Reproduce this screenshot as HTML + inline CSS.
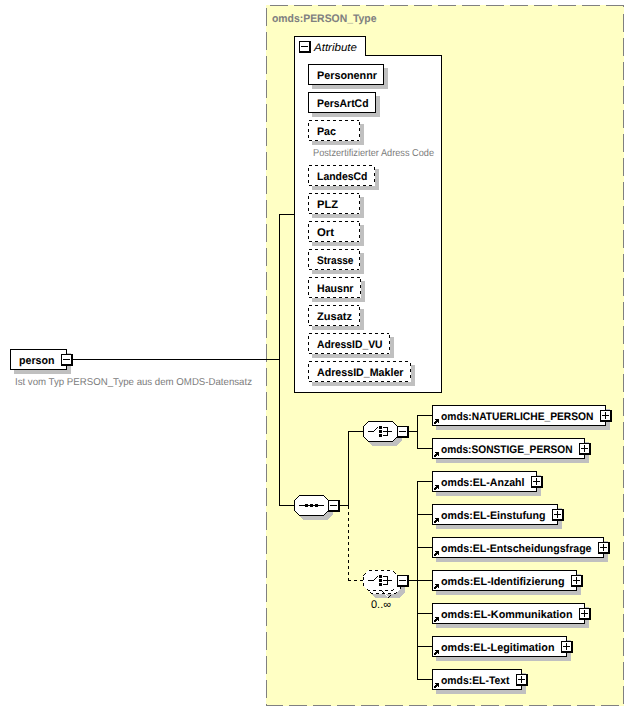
<!DOCTYPE html>
<html><head><meta charset="utf-8"><style>
html,body{margin:0;padding:0;background:#fff;width:634px;height:711px;overflow:hidden}
svg{display:block}
text{font-family:"Liberation Sans",sans-serif;shape-rendering:auto;text-rendering:geometricPrecision}
</style></head><body>
<svg width="634" height="711" viewBox="0 0 634 711" shape-rendering="crispEdges" font-family="Liberation Sans, sans-serif"><rect x="0" y="0" width="634" height="711" fill="#fff"/>
<rect x="266" y="5" width="358" height="701" fill="#ffffc4"/>
<rect x="270" y="5" width="18" height="1" fill="#808080"/>
<rect x="294" y="5" width="18" height="1" fill="#808080"/>
<rect x="318" y="5" width="18" height="1" fill="#808080"/>
<rect x="342" y="5" width="18" height="1" fill="#808080"/>
<rect x="366" y="5" width="18" height="1" fill="#808080"/>
<rect x="390" y="5" width="18" height="1" fill="#808080"/>
<rect x="414" y="5" width="18" height="1" fill="#808080"/>
<rect x="438" y="5" width="18" height="1" fill="#808080"/>
<rect x="462" y="5" width="18" height="1" fill="#808080"/>
<rect x="486" y="5" width="18" height="1" fill="#808080"/>
<rect x="510" y="5" width="18" height="1" fill="#808080"/>
<rect x="534" y="5" width="18" height="1" fill="#808080"/>
<rect x="558" y="5" width="18" height="1" fill="#808080"/>
<rect x="582" y="5" width="18" height="1" fill="#808080"/>
<rect x="606" y="5" width="18" height="1" fill="#808080"/>
<rect x="266" y="705" width="17" height="1" fill="#808080"/>
<rect x="289" y="705" width="18" height="1" fill="#808080"/>
<rect x="313" y="705" width="18" height="1" fill="#808080"/>
<rect x="337" y="705" width="18" height="1" fill="#808080"/>
<rect x="361" y="705" width="18" height="1" fill="#808080"/>
<rect x="385" y="705" width="18" height="1" fill="#808080"/>
<rect x="409" y="705" width="18" height="1" fill="#808080"/>
<rect x="433" y="705" width="18" height="1" fill="#808080"/>
<rect x="457" y="705" width="18" height="1" fill="#808080"/>
<rect x="481" y="705" width="18" height="1" fill="#808080"/>
<rect x="505" y="705" width="18" height="1" fill="#808080"/>
<rect x="529" y="705" width="18" height="1" fill="#808080"/>
<rect x="553" y="705" width="18" height="1" fill="#808080"/>
<rect x="577" y="705" width="18" height="1" fill="#808080"/>
<rect x="601" y="705" width="18" height="1" fill="#808080"/>
<rect x="266" y="8" width="1" height="18" fill="#808080"/>
<rect x="266" y="32" width="1" height="18" fill="#808080"/>
<rect x="266" y="56" width="1" height="18" fill="#808080"/>
<rect x="266" y="80" width="1" height="18" fill="#808080"/>
<rect x="266" y="104" width="1" height="18" fill="#808080"/>
<rect x="266" y="128" width="1" height="18" fill="#808080"/>
<rect x="266" y="152" width="1" height="18" fill="#808080"/>
<rect x="266" y="176" width="1" height="18" fill="#808080"/>
<rect x="266" y="200" width="1" height="18" fill="#808080"/>
<rect x="266" y="224" width="1" height="18" fill="#808080"/>
<rect x="266" y="248" width="1" height="18" fill="#808080"/>
<rect x="266" y="272" width="1" height="18" fill="#808080"/>
<rect x="266" y="296" width="1" height="18" fill="#808080"/>
<rect x="266" y="320" width="1" height="18" fill="#808080"/>
<rect x="266" y="344" width="1" height="18" fill="#808080"/>
<rect x="266" y="368" width="1" height="18" fill="#808080"/>
<rect x="266" y="392" width="1" height="18" fill="#808080"/>
<rect x="266" y="416" width="1" height="18" fill="#808080"/>
<rect x="266" y="440" width="1" height="18" fill="#808080"/>
<rect x="266" y="464" width="1" height="18" fill="#808080"/>
<rect x="266" y="488" width="1" height="18" fill="#808080"/>
<rect x="266" y="512" width="1" height="18" fill="#808080"/>
<rect x="266" y="536" width="1" height="18" fill="#808080"/>
<rect x="266" y="560" width="1" height="18" fill="#808080"/>
<rect x="266" y="584" width="1" height="18" fill="#808080"/>
<rect x="266" y="608" width="1" height="18" fill="#808080"/>
<rect x="266" y="632" width="1" height="18" fill="#808080"/>
<rect x="266" y="656" width="1" height="18" fill="#808080"/>
<rect x="266" y="680" width="1" height="18" fill="#808080"/>
<rect x="266" y="704" width="1" height="2" fill="#808080"/>
<rect x="623" y="5" width="1" height="2" fill="#808080"/>
<rect x="623" y="14" width="1" height="18" fill="#808080"/>
<rect x="623" y="38" width="1" height="18" fill="#808080"/>
<rect x="623" y="62" width="1" height="18" fill="#808080"/>
<rect x="623" y="86" width="1" height="18" fill="#808080"/>
<rect x="623" y="110" width="1" height="18" fill="#808080"/>
<rect x="623" y="134" width="1" height="18" fill="#808080"/>
<rect x="623" y="158" width="1" height="18" fill="#808080"/>
<rect x="623" y="182" width="1" height="18" fill="#808080"/>
<rect x="623" y="206" width="1" height="18" fill="#808080"/>
<rect x="623" y="230" width="1" height="18" fill="#808080"/>
<rect x="623" y="254" width="1" height="18" fill="#808080"/>
<rect x="623" y="278" width="1" height="18" fill="#808080"/>
<rect x="623" y="302" width="1" height="18" fill="#808080"/>
<rect x="623" y="326" width="1" height="18" fill="#808080"/>
<rect x="623" y="350" width="1" height="18" fill="#808080"/>
<rect x="623" y="374" width="1" height="18" fill="#808080"/>
<rect x="623" y="398" width="1" height="18" fill="#808080"/>
<rect x="623" y="422" width="1" height="18" fill="#808080"/>
<rect x="623" y="446" width="1" height="18" fill="#808080"/>
<rect x="623" y="470" width="1" height="18" fill="#808080"/>
<rect x="623" y="494" width="1" height="18" fill="#808080"/>
<rect x="623" y="518" width="1" height="18" fill="#808080"/>
<rect x="623" y="542" width="1" height="18" fill="#808080"/>
<rect x="623" y="566" width="1" height="18" fill="#808080"/>
<rect x="623" y="590" width="1" height="18" fill="#808080"/>
<rect x="623" y="614" width="1" height="18" fill="#808080"/>
<rect x="623" y="638" width="1" height="18" fill="#808080"/>
<rect x="623" y="662" width="1" height="18" fill="#808080"/>
<rect x="623" y="686" width="1" height="18" fill="#808080"/>
<text x="272" y="22" font-size="11" font-weight="bold" font-style="normal" fill="#808080" stroke="#808080" stroke-width="0.04" textLength="104.5" lengthAdjust="spacingAndGlyphs">omds:PERSON_Type</text>
<rect x="14" y="353" width="57" height="21" fill="#c0c0c0"/>
<rect x="10" y="349" width="57" height="21" fill="#fff"/>
<rect x="10" y="349" width="57" height="1" fill="#000"/>
<rect x="10" y="369" width="57" height="1" fill="#000"/>
<rect x="10" y="349" width="1" height="21" fill="#000"/>
<rect x="66" y="349" width="1" height="21" fill="#000"/>
<text x="19" y="364" font-size="11" font-weight="bold" font-style="normal" fill="#000" stroke="#000" stroke-width="0.04" textLength="35.5" lengthAdjust="spacingAndGlyphs">person</text>
<rect x="61" y="354" width="12" height="12" fill="#000"/>
<rect x="62" y="355" width="9" height="9" fill="#fff"/>
<rect x="63" y="359" width="7" height="1" fill="#000"/>
<text x="15" y="385" font-size="10" font-weight="normal" font-style="normal" fill="#7c7c7c" textLength="237" lengthAdjust="spacingAndGlyphs">Ist vom Typ PERSON_Type aus dem OMDS-Datensatz</text>
<rect x="73" y="359" width="207" height="1" fill="#000"/>
<rect x="279" y="214" width="1" height="292" fill="#000"/>
<rect x="279" y="214" width="16" height="1" fill="#000"/>
<rect x="279" y="505" width="16" height="1" fill="#000"/>
<rect x="294" y="36" width="72" height="20" fill="#fff"/>
<rect x="294" y="55" width="148" height="338" fill="#fff"/>
<rect x="294" y="36" width="72" height="1" fill="#000"/>
<rect x="294" y="36" width="1" height="357" fill="#000"/>
<rect x="365" y="36" width="1" height="20" fill="#000"/>
<rect x="365" y="55" width="77" height="1" fill="#000"/>
<rect x="441" y="55" width="1" height="338" fill="#000"/>
<rect x="294" y="392" width="148" height="1" fill="#000"/>
<rect x="299" y="41" width="12" height="12" fill="#000"/>
<rect x="300" y="42" width="9" height="9" fill="#fff"/>
<rect x="301" y="46" width="7" height="1" fill="#000"/>
<text x="314" y="51" font-size="11" font-weight="normal" font-style="italic" fill="#000" textLength="43" lengthAdjust="spacingAndGlyphs">Attribute</text>
<rect x="312" y="68" width="76" height="21" fill="#c0c0c0"/>
<rect x="308" y="64" width="76" height="21" fill="#fff"/>
<rect x="308" y="64" width="76" height="1" fill="#000"/>
<rect x="308" y="84" width="76" height="1" fill="#000"/>
<rect x="308" y="64" width="1" height="21" fill="#000"/>
<rect x="383" y="64" width="1" height="21" fill="#000"/>
<text x="317" y="79" font-size="11" font-weight="bold" font-style="normal" fill="#000" stroke="#000" stroke-width="0.04" textLength="60" lengthAdjust="spacingAndGlyphs">Personennr</text>
<rect x="312" y="96" width="68" height="21" fill="#c0c0c0"/>
<rect x="308" y="92" width="68" height="21" fill="#fff"/>
<rect x="308" y="92" width="68" height="1" fill="#000"/>
<rect x="308" y="112" width="68" height="1" fill="#000"/>
<rect x="308" y="92" width="1" height="21" fill="#000"/>
<rect x="375" y="92" width="1" height="21" fill="#000"/>
<text x="317" y="107" font-size="11" font-weight="bold" font-style="normal" fill="#000" stroke="#000" stroke-width="0.04" textLength="51.5" lengthAdjust="spacingAndGlyphs">PersArtCd</text>
<rect x="312" y="124" width="52" height="21" fill="#c0c0c0"/>
<rect x="308" y="120" width="52" height="21" fill="#fff"/>
<rect x="309" y="120" width="3" height="1" fill="#000"/>
<rect x="315" y="120" width="3" height="1" fill="#000"/>
<rect x="321" y="120" width="3" height="1" fill="#000"/>
<rect x="327" y="120" width="3" height="1" fill="#000"/>
<rect x="333" y="120" width="3" height="1" fill="#000"/>
<rect x="339" y="120" width="3" height="1" fill="#000"/>
<rect x="345" y="120" width="3" height="1" fill="#000"/>
<rect x="351" y="120" width="3" height="1" fill="#000"/>
<rect x="357" y="120" width="2" height="1" fill="#000"/>
<rect x="309" y="140" width="3" height="1" fill="#000"/>
<rect x="315" y="140" width="3" height="1" fill="#000"/>
<rect x="321" y="140" width="3" height="1" fill="#000"/>
<rect x="327" y="140" width="3" height="1" fill="#000"/>
<rect x="333" y="140" width="3" height="1" fill="#000"/>
<rect x="339" y="140" width="3" height="1" fill="#000"/>
<rect x="345" y="140" width="3" height="1" fill="#000"/>
<rect x="351" y="140" width="3" height="1" fill="#000"/>
<rect x="357" y="140" width="2" height="1" fill="#000"/>
<rect x="308" y="123" width="1" height="3" fill="#000"/>
<rect x="308" y="129" width="1" height="3" fill="#000"/>
<rect x="308" y="135" width="1" height="3" fill="#000"/>
<rect x="359" y="122" width="1" height="3" fill="#000"/>
<rect x="359" y="128" width="1" height="3" fill="#000"/>
<rect x="359" y="134" width="1" height="3" fill="#000"/>
<text x="317" y="135" font-size="11" font-weight="bold" font-style="normal" fill="#000" stroke="#000" stroke-width="0.04" textLength="19" lengthAdjust="spacingAndGlyphs">Pac</text>
<rect x="312" y="169" width="67" height="21" fill="#c0c0c0"/>
<rect x="308" y="165" width="67" height="21" fill="#fff"/>
<rect x="309" y="165" width="3" height="1" fill="#000"/>
<rect x="315" y="165" width="3" height="1" fill="#000"/>
<rect x="321" y="165" width="3" height="1" fill="#000"/>
<rect x="327" y="165" width="3" height="1" fill="#000"/>
<rect x="333" y="165" width="3" height="1" fill="#000"/>
<rect x="339" y="165" width="3" height="1" fill="#000"/>
<rect x="345" y="165" width="3" height="1" fill="#000"/>
<rect x="351" y="165" width="3" height="1" fill="#000"/>
<rect x="357" y="165" width="3" height="1" fill="#000"/>
<rect x="363" y="165" width="3" height="1" fill="#000"/>
<rect x="369" y="165" width="3" height="1" fill="#000"/>
<rect x="309" y="185" width="3" height="1" fill="#000"/>
<rect x="315" y="185" width="3" height="1" fill="#000"/>
<rect x="321" y="185" width="3" height="1" fill="#000"/>
<rect x="327" y="185" width="3" height="1" fill="#000"/>
<rect x="333" y="185" width="3" height="1" fill="#000"/>
<rect x="339" y="185" width="3" height="1" fill="#000"/>
<rect x="345" y="185" width="3" height="1" fill="#000"/>
<rect x="351" y="185" width="3" height="1" fill="#000"/>
<rect x="357" y="185" width="3" height="1" fill="#000"/>
<rect x="363" y="185" width="3" height="1" fill="#000"/>
<rect x="369" y="185" width="3" height="1" fill="#000"/>
<rect x="308" y="168" width="1" height="3" fill="#000"/>
<rect x="308" y="174" width="1" height="3" fill="#000"/>
<rect x="308" y="180" width="1" height="3" fill="#000"/>
<rect x="374" y="167" width="1" height="3" fill="#000"/>
<rect x="374" y="173" width="1" height="3" fill="#000"/>
<rect x="374" y="179" width="1" height="3" fill="#000"/>
<text x="317" y="180" font-size="11" font-weight="bold" font-style="normal" fill="#000" stroke="#000" stroke-width="0.04" textLength="50.5" lengthAdjust="spacingAndGlyphs">LandesCd</text>
<rect x="312" y="197" width="52" height="21" fill="#c0c0c0"/>
<rect x="308" y="193" width="52" height="21" fill="#fff"/>
<rect x="309" y="193" width="3" height="1" fill="#000"/>
<rect x="315" y="193" width="3" height="1" fill="#000"/>
<rect x="321" y="193" width="3" height="1" fill="#000"/>
<rect x="327" y="193" width="3" height="1" fill="#000"/>
<rect x="333" y="193" width="3" height="1" fill="#000"/>
<rect x="339" y="193" width="3" height="1" fill="#000"/>
<rect x="345" y="193" width="3" height="1" fill="#000"/>
<rect x="351" y="193" width="3" height="1" fill="#000"/>
<rect x="357" y="193" width="2" height="1" fill="#000"/>
<rect x="309" y="213" width="3" height="1" fill="#000"/>
<rect x="315" y="213" width="3" height="1" fill="#000"/>
<rect x="321" y="213" width="3" height="1" fill="#000"/>
<rect x="327" y="213" width="3" height="1" fill="#000"/>
<rect x="333" y="213" width="3" height="1" fill="#000"/>
<rect x="339" y="213" width="3" height="1" fill="#000"/>
<rect x="345" y="213" width="3" height="1" fill="#000"/>
<rect x="351" y="213" width="3" height="1" fill="#000"/>
<rect x="357" y="213" width="2" height="1" fill="#000"/>
<rect x="308" y="196" width="1" height="3" fill="#000"/>
<rect x="308" y="202" width="1" height="3" fill="#000"/>
<rect x="308" y="208" width="1" height="3" fill="#000"/>
<rect x="359" y="195" width="1" height="3" fill="#000"/>
<rect x="359" y="201" width="1" height="3" fill="#000"/>
<rect x="359" y="207" width="1" height="3" fill="#000"/>
<text x="317" y="208" font-size="11" font-weight="bold" font-style="normal" fill="#000" stroke="#000" stroke-width="0.04" textLength="21" lengthAdjust="spacingAndGlyphs">PLZ</text>
<rect x="312" y="225" width="52" height="21" fill="#c0c0c0"/>
<rect x="308" y="221" width="52" height="21" fill="#fff"/>
<rect x="309" y="221" width="3" height="1" fill="#000"/>
<rect x="315" y="221" width="3" height="1" fill="#000"/>
<rect x="321" y="221" width="3" height="1" fill="#000"/>
<rect x="327" y="221" width="3" height="1" fill="#000"/>
<rect x="333" y="221" width="3" height="1" fill="#000"/>
<rect x="339" y="221" width="3" height="1" fill="#000"/>
<rect x="345" y="221" width="3" height="1" fill="#000"/>
<rect x="351" y="221" width="3" height="1" fill="#000"/>
<rect x="357" y="221" width="2" height="1" fill="#000"/>
<rect x="309" y="241" width="3" height="1" fill="#000"/>
<rect x="315" y="241" width="3" height="1" fill="#000"/>
<rect x="321" y="241" width="3" height="1" fill="#000"/>
<rect x="327" y="241" width="3" height="1" fill="#000"/>
<rect x="333" y="241" width="3" height="1" fill="#000"/>
<rect x="339" y="241" width="3" height="1" fill="#000"/>
<rect x="345" y="241" width="3" height="1" fill="#000"/>
<rect x="351" y="241" width="3" height="1" fill="#000"/>
<rect x="357" y="241" width="2" height="1" fill="#000"/>
<rect x="308" y="224" width="1" height="3" fill="#000"/>
<rect x="308" y="230" width="1" height="3" fill="#000"/>
<rect x="308" y="236" width="1" height="3" fill="#000"/>
<rect x="359" y="223" width="1" height="3" fill="#000"/>
<rect x="359" y="229" width="1" height="3" fill="#000"/>
<rect x="359" y="235" width="1" height="3" fill="#000"/>
<text x="317" y="236" font-size="11" font-weight="bold" font-style="normal" fill="#000" stroke="#000" stroke-width="0.04" textLength="17" lengthAdjust="spacingAndGlyphs">Ort</text>
<rect x="312" y="253" width="52" height="21" fill="#c0c0c0"/>
<rect x="308" y="249" width="52" height="21" fill="#fff"/>
<rect x="309" y="249" width="3" height="1" fill="#000"/>
<rect x="315" y="249" width="3" height="1" fill="#000"/>
<rect x="321" y="249" width="3" height="1" fill="#000"/>
<rect x="327" y="249" width="3" height="1" fill="#000"/>
<rect x="333" y="249" width="3" height="1" fill="#000"/>
<rect x="339" y="249" width="3" height="1" fill="#000"/>
<rect x="345" y="249" width="3" height="1" fill="#000"/>
<rect x="351" y="249" width="3" height="1" fill="#000"/>
<rect x="357" y="249" width="2" height="1" fill="#000"/>
<rect x="309" y="269" width="3" height="1" fill="#000"/>
<rect x="315" y="269" width="3" height="1" fill="#000"/>
<rect x="321" y="269" width="3" height="1" fill="#000"/>
<rect x="327" y="269" width="3" height="1" fill="#000"/>
<rect x="333" y="269" width="3" height="1" fill="#000"/>
<rect x="339" y="269" width="3" height="1" fill="#000"/>
<rect x="345" y="269" width="3" height="1" fill="#000"/>
<rect x="351" y="269" width="3" height="1" fill="#000"/>
<rect x="357" y="269" width="2" height="1" fill="#000"/>
<rect x="308" y="252" width="1" height="3" fill="#000"/>
<rect x="308" y="258" width="1" height="3" fill="#000"/>
<rect x="308" y="264" width="1" height="3" fill="#000"/>
<rect x="359" y="251" width="1" height="3" fill="#000"/>
<rect x="359" y="257" width="1" height="3" fill="#000"/>
<rect x="359" y="263" width="1" height="3" fill="#000"/>
<text x="317" y="264" font-size="11" font-weight="bold" font-style="normal" fill="#000" stroke="#000" stroke-width="0.04" textLength="36.5" lengthAdjust="spacingAndGlyphs">Strasse</text>
<rect x="312" y="281" width="53" height="21" fill="#c0c0c0"/>
<rect x="308" y="277" width="53" height="21" fill="#fff"/>
<rect x="309" y="277" width="3" height="1" fill="#000"/>
<rect x="315" y="277" width="3" height="1" fill="#000"/>
<rect x="321" y="277" width="3" height="1" fill="#000"/>
<rect x="327" y="277" width="3" height="1" fill="#000"/>
<rect x="333" y="277" width="3" height="1" fill="#000"/>
<rect x="339" y="277" width="3" height="1" fill="#000"/>
<rect x="345" y="277" width="3" height="1" fill="#000"/>
<rect x="351" y="277" width="3" height="1" fill="#000"/>
<rect x="357" y="277" width="3" height="1" fill="#000"/>
<rect x="309" y="297" width="3" height="1" fill="#000"/>
<rect x="315" y="297" width="3" height="1" fill="#000"/>
<rect x="321" y="297" width="3" height="1" fill="#000"/>
<rect x="327" y="297" width="3" height="1" fill="#000"/>
<rect x="333" y="297" width="3" height="1" fill="#000"/>
<rect x="339" y="297" width="3" height="1" fill="#000"/>
<rect x="345" y="297" width="3" height="1" fill="#000"/>
<rect x="351" y="297" width="3" height="1" fill="#000"/>
<rect x="357" y="297" width="3" height="1" fill="#000"/>
<rect x="308" y="280" width="1" height="3" fill="#000"/>
<rect x="308" y="286" width="1" height="3" fill="#000"/>
<rect x="308" y="292" width="1" height="3" fill="#000"/>
<rect x="360" y="279" width="1" height="3" fill="#000"/>
<rect x="360" y="285" width="1" height="3" fill="#000"/>
<rect x="360" y="291" width="1" height="3" fill="#000"/>
<text x="317" y="292" font-size="11" font-weight="bold" font-style="normal" fill="#000" stroke="#000" stroke-width="0.04" textLength="36.5" lengthAdjust="spacingAndGlyphs">Hausnr</text>
<rect x="312" y="309" width="52" height="21" fill="#c0c0c0"/>
<rect x="308" y="305" width="52" height="21" fill="#fff"/>
<rect x="309" y="305" width="3" height="1" fill="#000"/>
<rect x="315" y="305" width="3" height="1" fill="#000"/>
<rect x="321" y="305" width="3" height="1" fill="#000"/>
<rect x="327" y="305" width="3" height="1" fill="#000"/>
<rect x="333" y="305" width="3" height="1" fill="#000"/>
<rect x="339" y="305" width="3" height="1" fill="#000"/>
<rect x="345" y="305" width="3" height="1" fill="#000"/>
<rect x="351" y="305" width="3" height="1" fill="#000"/>
<rect x="357" y="305" width="2" height="1" fill="#000"/>
<rect x="309" y="325" width="3" height="1" fill="#000"/>
<rect x="315" y="325" width="3" height="1" fill="#000"/>
<rect x="321" y="325" width="3" height="1" fill="#000"/>
<rect x="327" y="325" width="3" height="1" fill="#000"/>
<rect x="333" y="325" width="3" height="1" fill="#000"/>
<rect x="339" y="325" width="3" height="1" fill="#000"/>
<rect x="345" y="325" width="3" height="1" fill="#000"/>
<rect x="351" y="325" width="3" height="1" fill="#000"/>
<rect x="357" y="325" width="2" height="1" fill="#000"/>
<rect x="308" y="308" width="1" height="3" fill="#000"/>
<rect x="308" y="314" width="1" height="3" fill="#000"/>
<rect x="308" y="320" width="1" height="3" fill="#000"/>
<rect x="359" y="307" width="1" height="3" fill="#000"/>
<rect x="359" y="313" width="1" height="3" fill="#000"/>
<rect x="359" y="319" width="1" height="3" fill="#000"/>
<text x="317" y="320" font-size="11" font-weight="bold" font-style="normal" fill="#000" stroke="#000" stroke-width="0.04" textLength="35" lengthAdjust="spacingAndGlyphs">Zusatz</text>
<rect x="312" y="337" width="82" height="21" fill="#c0c0c0"/>
<rect x="308" y="333" width="82" height="21" fill="#fff"/>
<rect x="309" y="333" width="3" height="1" fill="#000"/>
<rect x="315" y="333" width="3" height="1" fill="#000"/>
<rect x="321" y="333" width="3" height="1" fill="#000"/>
<rect x="327" y="333" width="3" height="1" fill="#000"/>
<rect x="333" y="333" width="3" height="1" fill="#000"/>
<rect x="339" y="333" width="3" height="1" fill="#000"/>
<rect x="345" y="333" width="3" height="1" fill="#000"/>
<rect x="351" y="333" width="3" height="1" fill="#000"/>
<rect x="357" y="333" width="3" height="1" fill="#000"/>
<rect x="363" y="333" width="3" height="1" fill="#000"/>
<rect x="369" y="333" width="3" height="1" fill="#000"/>
<rect x="375" y="333" width="3" height="1" fill="#000"/>
<rect x="381" y="333" width="3" height="1" fill="#000"/>
<rect x="387" y="333" width="2" height="1" fill="#000"/>
<rect x="309" y="353" width="3" height="1" fill="#000"/>
<rect x="315" y="353" width="3" height="1" fill="#000"/>
<rect x="321" y="353" width="3" height="1" fill="#000"/>
<rect x="327" y="353" width="3" height="1" fill="#000"/>
<rect x="333" y="353" width="3" height="1" fill="#000"/>
<rect x="339" y="353" width="3" height="1" fill="#000"/>
<rect x="345" y="353" width="3" height="1" fill="#000"/>
<rect x="351" y="353" width="3" height="1" fill="#000"/>
<rect x="357" y="353" width="3" height="1" fill="#000"/>
<rect x="363" y="353" width="3" height="1" fill="#000"/>
<rect x="369" y="353" width="3" height="1" fill="#000"/>
<rect x="375" y="353" width="3" height="1" fill="#000"/>
<rect x="381" y="353" width="3" height="1" fill="#000"/>
<rect x="387" y="353" width="2" height="1" fill="#000"/>
<rect x="308" y="336" width="1" height="3" fill="#000"/>
<rect x="308" y="342" width="1" height="3" fill="#000"/>
<rect x="308" y="348" width="1" height="3" fill="#000"/>
<rect x="389" y="335" width="1" height="3" fill="#000"/>
<rect x="389" y="341" width="1" height="3" fill="#000"/>
<rect x="389" y="347" width="1" height="3" fill="#000"/>
<text x="317" y="348" font-size="11" font-weight="bold" font-style="normal" fill="#000" stroke="#000" stroke-width="0.04" textLength="65.5" lengthAdjust="spacingAndGlyphs">AdressID_VU</text>
<rect x="312" y="365" width="103" height="21" fill="#c0c0c0"/>
<rect x="308" y="361" width="103" height="21" fill="#fff"/>
<rect x="309" y="361" width="3" height="1" fill="#000"/>
<rect x="315" y="361" width="3" height="1" fill="#000"/>
<rect x="321" y="361" width="3" height="1" fill="#000"/>
<rect x="327" y="361" width="3" height="1" fill="#000"/>
<rect x="333" y="361" width="3" height="1" fill="#000"/>
<rect x="339" y="361" width="3" height="1" fill="#000"/>
<rect x="345" y="361" width="3" height="1" fill="#000"/>
<rect x="351" y="361" width="3" height="1" fill="#000"/>
<rect x="357" y="361" width="3" height="1" fill="#000"/>
<rect x="363" y="361" width="3" height="1" fill="#000"/>
<rect x="369" y="361" width="3" height="1" fill="#000"/>
<rect x="375" y="361" width="3" height="1" fill="#000"/>
<rect x="381" y="361" width="3" height="1" fill="#000"/>
<rect x="387" y="361" width="3" height="1" fill="#000"/>
<rect x="393" y="361" width="3" height="1" fill="#000"/>
<rect x="399" y="361" width="3" height="1" fill="#000"/>
<rect x="405" y="361" width="3" height="1" fill="#000"/>
<rect x="309" y="381" width="3" height="1" fill="#000"/>
<rect x="315" y="381" width="3" height="1" fill="#000"/>
<rect x="321" y="381" width="3" height="1" fill="#000"/>
<rect x="327" y="381" width="3" height="1" fill="#000"/>
<rect x="333" y="381" width="3" height="1" fill="#000"/>
<rect x="339" y="381" width="3" height="1" fill="#000"/>
<rect x="345" y="381" width="3" height="1" fill="#000"/>
<rect x="351" y="381" width="3" height="1" fill="#000"/>
<rect x="357" y="381" width="3" height="1" fill="#000"/>
<rect x="363" y="381" width="3" height="1" fill="#000"/>
<rect x="369" y="381" width="3" height="1" fill="#000"/>
<rect x="375" y="381" width="3" height="1" fill="#000"/>
<rect x="381" y="381" width="3" height="1" fill="#000"/>
<rect x="387" y="381" width="3" height="1" fill="#000"/>
<rect x="393" y="381" width="3" height="1" fill="#000"/>
<rect x="399" y="381" width="3" height="1" fill="#000"/>
<rect x="405" y="381" width="3" height="1" fill="#000"/>
<rect x="308" y="364" width="1" height="3" fill="#000"/>
<rect x="308" y="370" width="1" height="3" fill="#000"/>
<rect x="308" y="376" width="1" height="3" fill="#000"/>
<rect x="410" y="363" width="1" height="3" fill="#000"/>
<rect x="410" y="369" width="1" height="3" fill="#000"/>
<rect x="410" y="375" width="1" height="3" fill="#000"/>
<text x="317" y="376" font-size="11" font-weight="bold" font-style="normal" fill="#000" stroke="#000" stroke-width="0.04" textLength="86.5" lengthAdjust="spacingAndGlyphs">AdressID_Makler</text>
<text x="313" y="156" font-size="10" font-weight="normal" font-style="normal" fill="#7c7c7c" textLength="121" lengthAdjust="spacingAndGlyphs">Postzertifizierter Adress Code</text>
<rect x="303" y="499" width="25" height="1" fill="#c0c0c0"/>
<rect x="302" y="500" width="27" height="1" fill="#c0c0c0"/>
<rect x="301" y="501" width="29" height="1" fill="#c0c0c0"/>
<rect x="300" y="502" width="31" height="1" fill="#c0c0c0"/>
<rect x="299" y="503" width="33" height="1" fill="#c0c0c0"/>
<rect x="298" y="504" width="35" height="1" fill="#c0c0c0"/>
<rect x="298" y="505" width="35" height="1" fill="#c0c0c0"/>
<rect x="298" y="506" width="35" height="1" fill="#c0c0c0"/>
<rect x="298" y="507" width="35" height="1" fill="#c0c0c0"/>
<rect x="298" y="508" width="35" height="1" fill="#c0c0c0"/>
<rect x="298" y="509" width="35" height="1" fill="#c0c0c0"/>
<rect x="298" y="510" width="35" height="1" fill="#c0c0c0"/>
<rect x="298" y="511" width="35" height="1" fill="#c0c0c0"/>
<rect x="298" y="512" width="35" height="1" fill="#c0c0c0"/>
<rect x="298" y="513" width="35" height="1" fill="#c0c0c0"/>
<rect x="298" y="514" width="35" height="1" fill="#c0c0c0"/>
<rect x="299" y="515" width="33" height="1" fill="#c0c0c0"/>
<rect x="300" y="516" width="31" height="1" fill="#c0c0c0"/>
<rect x="301" y="517" width="29" height="1" fill="#c0c0c0"/>
<rect x="302" y="518" width="27" height="1" fill="#c0c0c0"/>
<rect x="303" y="519" width="25" height="1" fill="#c0c0c0"/>
<rect x="299" y="495" width="25" height="1" fill="#fff"/>
<rect x="298" y="496" width="27" height="1" fill="#fff"/>
<rect x="297" y="497" width="29" height="1" fill="#fff"/>
<rect x="296" y="498" width="31" height="1" fill="#fff"/>
<rect x="295" y="499" width="33" height="1" fill="#fff"/>
<rect x="294" y="500" width="35" height="1" fill="#fff"/>
<rect x="294" y="501" width="35" height="1" fill="#fff"/>
<rect x="294" y="502" width="35" height="1" fill="#fff"/>
<rect x="294" y="503" width="35" height="1" fill="#fff"/>
<rect x="294" y="504" width="35" height="1" fill="#fff"/>
<rect x="294" y="505" width="35" height="1" fill="#fff"/>
<rect x="294" y="506" width="35" height="1" fill="#fff"/>
<rect x="294" y="507" width="35" height="1" fill="#fff"/>
<rect x="294" y="508" width="35" height="1" fill="#fff"/>
<rect x="294" y="509" width="35" height="1" fill="#fff"/>
<rect x="294" y="510" width="35" height="1" fill="#fff"/>
<rect x="295" y="511" width="33" height="1" fill="#fff"/>
<rect x="296" y="512" width="31" height="1" fill="#fff"/>
<rect x="297" y="513" width="29" height="1" fill="#fff"/>
<rect x="298" y="514" width="27" height="1" fill="#fff"/>
<rect x="299" y="515" width="25" height="1" fill="#fff"/>
<rect x="299" y="495" width="1" height="1" fill="#000"/>
<rect x="300" y="495" width="1" height="1" fill="#000"/>
<rect x="301" y="495" width="1" height="1" fill="#000"/>
<rect x="302" y="495" width="1" height="1" fill="#000"/>
<rect x="303" y="495" width="1" height="1" fill="#000"/>
<rect x="304" y="495" width="1" height="1" fill="#000"/>
<rect x="305" y="495" width="1" height="1" fill="#000"/>
<rect x="306" y="495" width="1" height="1" fill="#000"/>
<rect x="307" y="495" width="1" height="1" fill="#000"/>
<rect x="308" y="495" width="1" height="1" fill="#000"/>
<rect x="309" y="495" width="1" height="1" fill="#000"/>
<rect x="310" y="495" width="1" height="1" fill="#000"/>
<rect x="311" y="495" width="1" height="1" fill="#000"/>
<rect x="312" y="495" width="1" height="1" fill="#000"/>
<rect x="313" y="495" width="1" height="1" fill="#000"/>
<rect x="314" y="495" width="1" height="1" fill="#000"/>
<rect x="315" y="495" width="1" height="1" fill="#000"/>
<rect x="316" y="495" width="1" height="1" fill="#000"/>
<rect x="317" y="495" width="1" height="1" fill="#000"/>
<rect x="318" y="495" width="1" height="1" fill="#000"/>
<rect x="319" y="495" width="1" height="1" fill="#000"/>
<rect x="320" y="495" width="1" height="1" fill="#000"/>
<rect x="321" y="495" width="1" height="1" fill="#000"/>
<rect x="322" y="495" width="1" height="1" fill="#000"/>
<rect x="323" y="495" width="1" height="1" fill="#000"/>
<rect x="324" y="496" width="1" height="1" fill="#000"/>
<rect x="325" y="497" width="1" height="1" fill="#000"/>
<rect x="326" y="498" width="1" height="1" fill="#000"/>
<rect x="327" y="499" width="1" height="1" fill="#000"/>
<rect x="328" y="500" width="1" height="1" fill="#000"/>
<rect x="328" y="501" width="1" height="1" fill="#000"/>
<rect x="328" y="502" width="1" height="1" fill="#000"/>
<rect x="328" y="503" width="1" height="1" fill="#000"/>
<rect x="328" y="504" width="1" height="1" fill="#000"/>
<rect x="328" y="505" width="1" height="1" fill="#000"/>
<rect x="328" y="506" width="1" height="1" fill="#000"/>
<rect x="328" y="507" width="1" height="1" fill="#000"/>
<rect x="328" y="508" width="1" height="1" fill="#000"/>
<rect x="328" y="509" width="1" height="1" fill="#000"/>
<rect x="328" y="510" width="1" height="1" fill="#000"/>
<rect x="327" y="511" width="1" height="1" fill="#000"/>
<rect x="326" y="512" width="1" height="1" fill="#000"/>
<rect x="325" y="513" width="1" height="1" fill="#000"/>
<rect x="324" y="514" width="1" height="1" fill="#000"/>
<rect x="323" y="515" width="1" height="1" fill="#000"/>
<rect x="322" y="515" width="1" height="1" fill="#000"/>
<rect x="321" y="515" width="1" height="1" fill="#000"/>
<rect x="320" y="515" width="1" height="1" fill="#000"/>
<rect x="319" y="515" width="1" height="1" fill="#000"/>
<rect x="318" y="515" width="1" height="1" fill="#000"/>
<rect x="317" y="515" width="1" height="1" fill="#000"/>
<rect x="316" y="515" width="1" height="1" fill="#000"/>
<rect x="315" y="515" width="1" height="1" fill="#000"/>
<rect x="314" y="515" width="1" height="1" fill="#000"/>
<rect x="313" y="515" width="1" height="1" fill="#000"/>
<rect x="312" y="515" width="1" height="1" fill="#000"/>
<rect x="311" y="515" width="1" height="1" fill="#000"/>
<rect x="310" y="515" width="1" height="1" fill="#000"/>
<rect x="309" y="515" width="1" height="1" fill="#000"/>
<rect x="308" y="515" width="1" height="1" fill="#000"/>
<rect x="307" y="515" width="1" height="1" fill="#000"/>
<rect x="306" y="515" width="1" height="1" fill="#000"/>
<rect x="305" y="515" width="1" height="1" fill="#000"/>
<rect x="304" y="515" width="1" height="1" fill="#000"/>
<rect x="303" y="515" width="1" height="1" fill="#000"/>
<rect x="302" y="515" width="1" height="1" fill="#000"/>
<rect x="301" y="515" width="1" height="1" fill="#000"/>
<rect x="300" y="515" width="1" height="1" fill="#000"/>
<rect x="299" y="515" width="1" height="1" fill="#000"/>
<rect x="298" y="514" width="1" height="1" fill="#000"/>
<rect x="297" y="513" width="1" height="1" fill="#000"/>
<rect x="296" y="512" width="1" height="1" fill="#000"/>
<rect x="295" y="511" width="1" height="1" fill="#000"/>
<rect x="294" y="510" width="1" height="1" fill="#000"/>
<rect x="294" y="509" width="1" height="1" fill="#000"/>
<rect x="294" y="508" width="1" height="1" fill="#000"/>
<rect x="294" y="507" width="1" height="1" fill="#000"/>
<rect x="294" y="506" width="1" height="1" fill="#000"/>
<rect x="294" y="505" width="1" height="1" fill="#000"/>
<rect x="294" y="504" width="1" height="1" fill="#000"/>
<rect x="294" y="503" width="1" height="1" fill="#000"/>
<rect x="294" y="502" width="1" height="1" fill="#000"/>
<rect x="294" y="501" width="1" height="1" fill="#000"/>
<rect x="294" y="500" width="1" height="1" fill="#000"/>
<rect x="295" y="499" width="1" height="1" fill="#000"/>
<rect x="296" y="498" width="1" height="1" fill="#000"/>
<rect x="297" y="497" width="1" height="1" fill="#000"/>
<rect x="298" y="496" width="1" height="1" fill="#000"/>
<rect x="299" y="505" width="25" height="1" fill="#000"/>
<rect x="305" y="504" width="3" height="3" fill="#000"/>
<rect x="310" y="504" width="3" height="3" fill="#000"/>
<rect x="315" y="504" width="3" height="3" fill="#000"/>
<rect x="328" y="500" width="12" height="12" fill="#000"/>
<rect x="329" y="501" width="9" height="9" fill="#fff"/>
<rect x="330" y="505" width="7" height="1" fill="#000"/>
<rect x="340" y="505" width="9" height="1" fill="#000"/>
<rect x="348" y="431" width="1" height="75" fill="#000"/>
<rect x="348" y="506" width="1" height="3" fill="#000"/>
<rect x="348" y="512" width="1" height="3" fill="#000"/>
<rect x="348" y="518" width="1" height="3" fill="#000"/>
<rect x="348" y="524" width="1" height="3" fill="#000"/>
<rect x="348" y="530" width="1" height="3" fill="#000"/>
<rect x="348" y="536" width="1" height="3" fill="#000"/>
<rect x="348" y="542" width="1" height="3" fill="#000"/>
<rect x="348" y="548" width="1" height="3" fill="#000"/>
<rect x="348" y="554" width="1" height="3" fill="#000"/>
<rect x="348" y="560" width="1" height="3" fill="#000"/>
<rect x="348" y="566" width="1" height="3" fill="#000"/>
<rect x="348" y="572" width="1" height="3" fill="#000"/>
<rect x="348" y="578" width="1" height="3" fill="#000"/>
<rect x="348" y="580" width="3" height="1" fill="#000"/>
<rect x="354" y="580" width="3" height="1" fill="#000"/>
<rect x="360" y="580" width="3" height="1" fill="#000"/>
<rect x="372" y="425" width="25" height="1" fill="#c0c0c0"/>
<rect x="371" y="426" width="27" height="1" fill="#c0c0c0"/>
<rect x="370" y="427" width="29" height="1" fill="#c0c0c0"/>
<rect x="369" y="428" width="31" height="1" fill="#c0c0c0"/>
<rect x="368" y="429" width="33" height="1" fill="#c0c0c0"/>
<rect x="367" y="430" width="35" height="1" fill="#c0c0c0"/>
<rect x="367" y="431" width="35" height="1" fill="#c0c0c0"/>
<rect x="367" y="432" width="35" height="1" fill="#c0c0c0"/>
<rect x="367" y="433" width="35" height="1" fill="#c0c0c0"/>
<rect x="367" y="434" width="35" height="1" fill="#c0c0c0"/>
<rect x="367" y="435" width="35" height="1" fill="#c0c0c0"/>
<rect x="367" y="436" width="35" height="1" fill="#c0c0c0"/>
<rect x="367" y="437" width="35" height="1" fill="#c0c0c0"/>
<rect x="367" y="438" width="35" height="1" fill="#c0c0c0"/>
<rect x="367" y="439" width="35" height="1" fill="#c0c0c0"/>
<rect x="367" y="440" width="35" height="1" fill="#c0c0c0"/>
<rect x="368" y="441" width="33" height="1" fill="#c0c0c0"/>
<rect x="369" y="442" width="31" height="1" fill="#c0c0c0"/>
<rect x="370" y="443" width="29" height="1" fill="#c0c0c0"/>
<rect x="371" y="444" width="27" height="1" fill="#c0c0c0"/>
<rect x="372" y="445" width="25" height="1" fill="#c0c0c0"/>
<rect x="368" y="421" width="25" height="1" fill="#fff"/>
<rect x="367" y="422" width="27" height="1" fill="#fff"/>
<rect x="366" y="423" width="29" height="1" fill="#fff"/>
<rect x="365" y="424" width="31" height="1" fill="#fff"/>
<rect x="364" y="425" width="33" height="1" fill="#fff"/>
<rect x="363" y="426" width="35" height="1" fill="#fff"/>
<rect x="363" y="427" width="35" height="1" fill="#fff"/>
<rect x="363" y="428" width="35" height="1" fill="#fff"/>
<rect x="363" y="429" width="35" height="1" fill="#fff"/>
<rect x="363" y="430" width="35" height="1" fill="#fff"/>
<rect x="363" y="431" width="35" height="1" fill="#fff"/>
<rect x="363" y="432" width="35" height="1" fill="#fff"/>
<rect x="363" y="433" width="35" height="1" fill="#fff"/>
<rect x="363" y="434" width="35" height="1" fill="#fff"/>
<rect x="363" y="435" width="35" height="1" fill="#fff"/>
<rect x="363" y="436" width="35" height="1" fill="#fff"/>
<rect x="364" y="437" width="33" height="1" fill="#fff"/>
<rect x="365" y="438" width="31" height="1" fill="#fff"/>
<rect x="366" y="439" width="29" height="1" fill="#fff"/>
<rect x="367" y="440" width="27" height="1" fill="#fff"/>
<rect x="368" y="441" width="25" height="1" fill="#fff"/>
<rect x="368" y="421" width="1" height="1" fill="#000"/>
<rect x="369" y="421" width="1" height="1" fill="#000"/>
<rect x="370" y="421" width="1" height="1" fill="#000"/>
<rect x="371" y="421" width="1" height="1" fill="#000"/>
<rect x="372" y="421" width="1" height="1" fill="#000"/>
<rect x="373" y="421" width="1" height="1" fill="#000"/>
<rect x="374" y="421" width="1" height="1" fill="#000"/>
<rect x="375" y="421" width="1" height="1" fill="#000"/>
<rect x="376" y="421" width="1" height="1" fill="#000"/>
<rect x="377" y="421" width="1" height="1" fill="#000"/>
<rect x="378" y="421" width="1" height="1" fill="#000"/>
<rect x="379" y="421" width="1" height="1" fill="#000"/>
<rect x="380" y="421" width="1" height="1" fill="#000"/>
<rect x="381" y="421" width="1" height="1" fill="#000"/>
<rect x="382" y="421" width="1" height="1" fill="#000"/>
<rect x="383" y="421" width="1" height="1" fill="#000"/>
<rect x="384" y="421" width="1" height="1" fill="#000"/>
<rect x="385" y="421" width="1" height="1" fill="#000"/>
<rect x="386" y="421" width="1" height="1" fill="#000"/>
<rect x="387" y="421" width="1" height="1" fill="#000"/>
<rect x="388" y="421" width="1" height="1" fill="#000"/>
<rect x="389" y="421" width="1" height="1" fill="#000"/>
<rect x="390" y="421" width="1" height="1" fill="#000"/>
<rect x="391" y="421" width="1" height="1" fill="#000"/>
<rect x="392" y="421" width="1" height="1" fill="#000"/>
<rect x="393" y="422" width="1" height="1" fill="#000"/>
<rect x="394" y="423" width="1" height="1" fill="#000"/>
<rect x="395" y="424" width="1" height="1" fill="#000"/>
<rect x="396" y="425" width="1" height="1" fill="#000"/>
<rect x="397" y="426" width="1" height="1" fill="#000"/>
<rect x="397" y="427" width="1" height="1" fill="#000"/>
<rect x="397" y="428" width="1" height="1" fill="#000"/>
<rect x="397" y="429" width="1" height="1" fill="#000"/>
<rect x="397" y="430" width="1" height="1" fill="#000"/>
<rect x="397" y="431" width="1" height="1" fill="#000"/>
<rect x="397" y="432" width="1" height="1" fill="#000"/>
<rect x="397" y="433" width="1" height="1" fill="#000"/>
<rect x="397" y="434" width="1" height="1" fill="#000"/>
<rect x="397" y="435" width="1" height="1" fill="#000"/>
<rect x="397" y="436" width="1" height="1" fill="#000"/>
<rect x="396" y="437" width="1" height="1" fill="#000"/>
<rect x="395" y="438" width="1" height="1" fill="#000"/>
<rect x="394" y="439" width="1" height="1" fill="#000"/>
<rect x="393" y="440" width="1" height="1" fill="#000"/>
<rect x="392" y="441" width="1" height="1" fill="#000"/>
<rect x="391" y="441" width="1" height="1" fill="#000"/>
<rect x="390" y="441" width="1" height="1" fill="#000"/>
<rect x="389" y="441" width="1" height="1" fill="#000"/>
<rect x="388" y="441" width="1" height="1" fill="#000"/>
<rect x="387" y="441" width="1" height="1" fill="#000"/>
<rect x="386" y="441" width="1" height="1" fill="#000"/>
<rect x="385" y="441" width="1" height="1" fill="#000"/>
<rect x="384" y="441" width="1" height="1" fill="#000"/>
<rect x="383" y="441" width="1" height="1" fill="#000"/>
<rect x="382" y="441" width="1" height="1" fill="#000"/>
<rect x="381" y="441" width="1" height="1" fill="#000"/>
<rect x="380" y="441" width="1" height="1" fill="#000"/>
<rect x="379" y="441" width="1" height="1" fill="#000"/>
<rect x="378" y="441" width="1" height="1" fill="#000"/>
<rect x="377" y="441" width="1" height="1" fill="#000"/>
<rect x="376" y="441" width="1" height="1" fill="#000"/>
<rect x="375" y="441" width="1" height="1" fill="#000"/>
<rect x="374" y="441" width="1" height="1" fill="#000"/>
<rect x="373" y="441" width="1" height="1" fill="#000"/>
<rect x="372" y="441" width="1" height="1" fill="#000"/>
<rect x="371" y="441" width="1" height="1" fill="#000"/>
<rect x="370" y="441" width="1" height="1" fill="#000"/>
<rect x="369" y="441" width="1" height="1" fill="#000"/>
<rect x="368" y="441" width="1" height="1" fill="#000"/>
<rect x="367" y="440" width="1" height="1" fill="#000"/>
<rect x="366" y="439" width="1" height="1" fill="#000"/>
<rect x="365" y="438" width="1" height="1" fill="#000"/>
<rect x="364" y="437" width="1" height="1" fill="#000"/>
<rect x="363" y="436" width="1" height="1" fill="#000"/>
<rect x="363" y="435" width="1" height="1" fill="#000"/>
<rect x="363" y="434" width="1" height="1" fill="#000"/>
<rect x="363" y="433" width="1" height="1" fill="#000"/>
<rect x="363" y="432" width="1" height="1" fill="#000"/>
<rect x="363" y="431" width="1" height="1" fill="#000"/>
<rect x="363" y="430" width="1" height="1" fill="#000"/>
<rect x="363" y="429" width="1" height="1" fill="#000"/>
<rect x="363" y="428" width="1" height="1" fill="#000"/>
<rect x="363" y="427" width="1" height="1" fill="#000"/>
<rect x="363" y="426" width="1" height="1" fill="#000"/>
<rect x="364" y="425" width="1" height="1" fill="#000"/>
<rect x="365" y="424" width="1" height="1" fill="#000"/>
<rect x="366" y="423" width="1" height="1" fill="#000"/>
<rect x="367" y="422" width="1" height="1" fill="#000"/>
<rect x="368" y="431" width="6" height="1" fill="#000"/>
<line x1="373.5" y1="431.5" x2="377.5" y2="427.5" stroke="#000" stroke-width="1"/>
<rect x="379" y="426" width="3" height="3" fill="#000"/>
<rect x="379" y="430" width="3" height="3" fill="#000"/>
<rect x="379" y="434" width="3" height="3" fill="#000"/>
<rect x="383" y="427" width="5" height="1" fill="#000"/>
<rect x="383" y="431" width="9" height="1" fill="#000"/>
<rect x="383" y="435" width="5" height="1" fill="#000"/>
<rect x="387" y="427" width="1" height="9" fill="#000"/>
<rect x="348" y="431" width="16" height="1" fill="#000"/>
<rect x="397" y="426" width="12" height="12" fill="#000"/>
<rect x="398" y="427" width="9" height="9" fill="#fff"/>
<rect x="399" y="431" width="7" height="1" fill="#000"/>
<rect x="409" y="431" width="9" height="1" fill="#000"/>
<rect x="417" y="415" width="1" height="34" fill="#000"/>
<rect x="436" y="409" width="174" height="21" fill="#c0c0c0"/>
<rect x="432" y="405" width="174" height="21" fill="#fff"/>
<rect x="432" y="405" width="174" height="1" fill="#000"/>
<rect x="432" y="425" width="174" height="1" fill="#000"/>
<rect x="432" y="405" width="1" height="21" fill="#000"/>
<rect x="605" y="405" width="1" height="21" fill="#000"/>
<rect x="435" y="419" width="1" height="1" fill="#000"/>
<rect x="436" y="419" width="1" height="1" fill="#000"/>
<rect x="437" y="419" width="1" height="1" fill="#000"/>
<rect x="438" y="419" width="1" height="1" fill="#000"/>
<rect x="436" y="420" width="1" height="1" fill="#000"/>
<rect x="437" y="420" width="1" height="1" fill="#000"/>
<rect x="438" y="420" width="1" height="1" fill="#000"/>
<rect x="435" y="421" width="1" height="1" fill="#000"/>
<rect x="436" y="421" width="1" height="1" fill="#000"/>
<rect x="437" y="421" width="1" height="1" fill="#000"/>
<rect x="438" y="421" width="1" height="1" fill="#000"/>
<rect x="434" y="422" width="1" height="1" fill="#000"/>
<rect x="435" y="422" width="1" height="1" fill="#000"/>
<rect x="436" y="422" width="1" height="1" fill="#000"/>
<rect x="438" y="422" width="1" height="1" fill="#000"/>
<rect x="434" y="423" width="1" height="1" fill="#000"/>
<rect x="435" y="423" width="1" height="1" fill="#000"/>
<text x="441" y="420" font-size="11" font-weight="bold" font-style="normal" fill="#000" stroke="#000" stroke-width="0.04" textLength="152.5" lengthAdjust="spacingAndGlyphs">omds:NATUERLICHE_PERSON</text>
<rect x="600" y="410" width="12" height="12" fill="#000"/>
<rect x="601" y="411" width="9" height="9" fill="#fff"/>
<rect x="602" y="415" width="7" height="1" fill="#000"/>
<rect x="605" y="412" width="1" height="7" fill="#000"/>
<rect x="417" y="415" width="16" height="1" fill="#000"/>
<rect x="436" y="442" width="153" height="21" fill="#c0c0c0"/>
<rect x="432" y="438" width="153" height="21" fill="#fff"/>
<rect x="432" y="438" width="153" height="1" fill="#000"/>
<rect x="432" y="458" width="153" height="1" fill="#000"/>
<rect x="432" y="438" width="1" height="21" fill="#000"/>
<rect x="584" y="438" width="1" height="21" fill="#000"/>
<rect x="435" y="452" width="1" height="1" fill="#000"/>
<rect x="436" y="452" width="1" height="1" fill="#000"/>
<rect x="437" y="452" width="1" height="1" fill="#000"/>
<rect x="438" y="452" width="1" height="1" fill="#000"/>
<rect x="436" y="453" width="1" height="1" fill="#000"/>
<rect x="437" y="453" width="1" height="1" fill="#000"/>
<rect x="438" y="453" width="1" height="1" fill="#000"/>
<rect x="435" y="454" width="1" height="1" fill="#000"/>
<rect x="436" y="454" width="1" height="1" fill="#000"/>
<rect x="437" y="454" width="1" height="1" fill="#000"/>
<rect x="438" y="454" width="1" height="1" fill="#000"/>
<rect x="434" y="455" width="1" height="1" fill="#000"/>
<rect x="435" y="455" width="1" height="1" fill="#000"/>
<rect x="436" y="455" width="1" height="1" fill="#000"/>
<rect x="438" y="455" width="1" height="1" fill="#000"/>
<rect x="434" y="456" width="1" height="1" fill="#000"/>
<rect x="435" y="456" width="1" height="1" fill="#000"/>
<text x="441" y="453" font-size="11" font-weight="bold" font-style="normal" fill="#000" stroke="#000" stroke-width="0.04" textLength="131.5" lengthAdjust="spacingAndGlyphs">omds:SONSTIGE_PERSON</text>
<rect x="579" y="443" width="12" height="12" fill="#000"/>
<rect x="580" y="444" width="9" height="9" fill="#fff"/>
<rect x="581" y="448" width="7" height="1" fill="#000"/>
<rect x="584" y="445" width="1" height="7" fill="#000"/>
<rect x="417" y="448" width="16" height="1" fill="#000"/>
<rect x="375" y="577" width="25" height="1" fill="#c0c0c0"/>
<rect x="374" y="578" width="27" height="1" fill="#c0c0c0"/>
<rect x="373" y="579" width="29" height="1" fill="#c0c0c0"/>
<rect x="372" y="580" width="31" height="1" fill="#c0c0c0"/>
<rect x="371" y="581" width="33" height="1" fill="#c0c0c0"/>
<rect x="370" y="582" width="35" height="1" fill="#c0c0c0"/>
<rect x="370" y="583" width="35" height="1" fill="#c0c0c0"/>
<rect x="370" y="584" width="35" height="1" fill="#c0c0c0"/>
<rect x="370" y="585" width="35" height="1" fill="#c0c0c0"/>
<rect x="370" y="586" width="35" height="1" fill="#c0c0c0"/>
<rect x="370" y="587" width="35" height="1" fill="#c0c0c0"/>
<rect x="370" y="588" width="35" height="1" fill="#c0c0c0"/>
<rect x="370" y="589" width="35" height="1" fill="#c0c0c0"/>
<rect x="370" y="590" width="35" height="1" fill="#c0c0c0"/>
<rect x="370" y="591" width="35" height="1" fill="#c0c0c0"/>
<rect x="370" y="592" width="35" height="1" fill="#c0c0c0"/>
<rect x="371" y="593" width="33" height="1" fill="#c0c0c0"/>
<rect x="372" y="594" width="31" height="1" fill="#c0c0c0"/>
<rect x="373" y="595" width="29" height="1" fill="#c0c0c0"/>
<rect x="374" y="596" width="27" height="1" fill="#c0c0c0"/>
<rect x="375" y="597" width="25" height="1" fill="#c0c0c0"/>
<rect x="371" y="573" width="25" height="1" fill="#fff"/>
<rect x="370" y="574" width="27" height="1" fill="#fff"/>
<rect x="369" y="575" width="29" height="1" fill="#fff"/>
<rect x="368" y="576" width="31" height="1" fill="#fff"/>
<rect x="367" y="577" width="33" height="1" fill="#fff"/>
<rect x="366" y="578" width="35" height="1" fill="#fff"/>
<rect x="366" y="579" width="35" height="1" fill="#fff"/>
<rect x="366" y="580" width="35" height="1" fill="#fff"/>
<rect x="366" y="581" width="35" height="1" fill="#fff"/>
<rect x="366" y="582" width="35" height="1" fill="#fff"/>
<rect x="366" y="583" width="35" height="1" fill="#fff"/>
<rect x="366" y="584" width="35" height="1" fill="#fff"/>
<rect x="366" y="585" width="35" height="1" fill="#fff"/>
<rect x="366" y="586" width="35" height="1" fill="#fff"/>
<rect x="366" y="587" width="35" height="1" fill="#fff"/>
<rect x="366" y="588" width="35" height="1" fill="#fff"/>
<rect x="367" y="589" width="33" height="1" fill="#fff"/>
<rect x="368" y="590" width="31" height="1" fill="#fff"/>
<rect x="369" y="591" width="29" height="1" fill="#fff"/>
<rect x="370" y="592" width="27" height="1" fill="#fff"/>
<rect x="371" y="593" width="25" height="1" fill="#fff"/>
<rect x="372" y="573" width="1" height="1" fill="#000"/>
<rect x="373" y="573" width="1" height="1" fill="#000"/>
<rect x="374" y="573" width="1" height="1" fill="#000"/>
<rect x="378" y="573" width="1" height="1" fill="#000"/>
<rect x="379" y="573" width="1" height="1" fill="#000"/>
<rect x="380" y="573" width="1" height="1" fill="#000"/>
<rect x="384" y="573" width="1" height="1" fill="#000"/>
<rect x="385" y="573" width="1" height="1" fill="#000"/>
<rect x="386" y="573" width="1" height="1" fill="#000"/>
<rect x="390" y="573" width="1" height="1" fill="#000"/>
<rect x="391" y="573" width="1" height="1" fill="#000"/>
<rect x="392" y="573" width="1" height="1" fill="#000"/>
<rect x="396" y="574" width="1" height="1" fill="#000"/>
<rect x="397" y="575" width="1" height="1" fill="#000"/>
<rect x="398" y="576" width="1" height="1" fill="#000"/>
<rect x="400" y="580" width="1" height="1" fill="#000"/>
<rect x="400" y="581" width="1" height="1" fill="#000"/>
<rect x="400" y="582" width="1" height="1" fill="#000"/>
<rect x="400" y="586" width="1" height="1" fill="#000"/>
<rect x="400" y="587" width="1" height="1" fill="#000"/>
<rect x="400" y="588" width="1" height="1" fill="#000"/>
<rect x="396" y="592" width="1" height="1" fill="#000"/>
<rect x="395" y="593" width="1" height="1" fill="#000"/>
<rect x="394" y="593" width="1" height="1" fill="#000"/>
<rect x="390" y="593" width="1" height="1" fill="#000"/>
<rect x="389" y="593" width="1" height="1" fill="#000"/>
<rect x="388" y="593" width="1" height="1" fill="#000"/>
<rect x="384" y="593" width="1" height="1" fill="#000"/>
<rect x="383" y="593" width="1" height="1" fill="#000"/>
<rect x="382" y="593" width="1" height="1" fill="#000"/>
<rect x="378" y="593" width="1" height="1" fill="#000"/>
<rect x="377" y="593" width="1" height="1" fill="#000"/>
<rect x="376" y="593" width="1" height="1" fill="#000"/>
<rect x="372" y="593" width="1" height="1" fill="#000"/>
<rect x="371" y="593" width="1" height="1" fill="#000"/>
<rect x="370" y="592" width="1" height="1" fill="#000"/>
<rect x="366" y="588" width="1" height="1" fill="#000"/>
<rect x="366" y="587" width="1" height="1" fill="#000"/>
<rect x="366" y="586" width="1" height="1" fill="#000"/>
<rect x="366" y="582" width="1" height="1" fill="#000"/>
<rect x="366" y="581" width="1" height="1" fill="#000"/>
<rect x="366" y="580" width="1" height="1" fill="#000"/>
<rect x="368" y="576" width="1" height="1" fill="#000"/>
<rect x="369" y="575" width="1" height="1" fill="#000"/>
<rect x="370" y="574" width="1" height="1" fill="#000"/>
<rect x="368" y="570" width="25" height="1" fill="#fff"/>
<rect x="367" y="571" width="27" height="1" fill="#fff"/>
<rect x="366" y="572" width="29" height="1" fill="#fff"/>
<rect x="365" y="573" width="31" height="1" fill="#fff"/>
<rect x="364" y="574" width="33" height="1" fill="#fff"/>
<rect x="363" y="575" width="35" height="1" fill="#fff"/>
<rect x="363" y="576" width="35" height="1" fill="#fff"/>
<rect x="363" y="577" width="35" height="1" fill="#fff"/>
<rect x="363" y="578" width="35" height="1" fill="#fff"/>
<rect x="363" y="579" width="35" height="1" fill="#fff"/>
<rect x="363" y="580" width="35" height="1" fill="#fff"/>
<rect x="363" y="581" width="35" height="1" fill="#fff"/>
<rect x="363" y="582" width="35" height="1" fill="#fff"/>
<rect x="363" y="583" width="35" height="1" fill="#fff"/>
<rect x="363" y="584" width="35" height="1" fill="#fff"/>
<rect x="363" y="585" width="35" height="1" fill="#fff"/>
<rect x="364" y="586" width="33" height="1" fill="#fff"/>
<rect x="365" y="587" width="31" height="1" fill="#fff"/>
<rect x="366" y="588" width="29" height="1" fill="#fff"/>
<rect x="367" y="589" width="27" height="1" fill="#fff"/>
<rect x="368" y="590" width="25" height="1" fill="#fff"/>
<rect x="369" y="570" width="1" height="1" fill="#000"/>
<rect x="370" y="570" width="1" height="1" fill="#000"/>
<rect x="371" y="570" width="1" height="1" fill="#000"/>
<rect x="375" y="570" width="1" height="1" fill="#000"/>
<rect x="376" y="570" width="1" height="1" fill="#000"/>
<rect x="377" y="570" width="1" height="1" fill="#000"/>
<rect x="381" y="570" width="1" height="1" fill="#000"/>
<rect x="382" y="570" width="1" height="1" fill="#000"/>
<rect x="383" y="570" width="1" height="1" fill="#000"/>
<rect x="387" y="570" width="1" height="1" fill="#000"/>
<rect x="388" y="570" width="1" height="1" fill="#000"/>
<rect x="389" y="570" width="1" height="1" fill="#000"/>
<rect x="393" y="571" width="1" height="1" fill="#000"/>
<rect x="394" y="572" width="1" height="1" fill="#000"/>
<rect x="395" y="573" width="1" height="1" fill="#000"/>
<rect x="397" y="577" width="1" height="1" fill="#000"/>
<rect x="397" y="578" width="1" height="1" fill="#000"/>
<rect x="397" y="579" width="1" height="1" fill="#000"/>
<rect x="397" y="583" width="1" height="1" fill="#000"/>
<rect x="397" y="584" width="1" height="1" fill="#000"/>
<rect x="397" y="585" width="1" height="1" fill="#000"/>
<rect x="393" y="589" width="1" height="1" fill="#000"/>
<rect x="392" y="590" width="1" height="1" fill="#000"/>
<rect x="391" y="590" width="1" height="1" fill="#000"/>
<rect x="387" y="590" width="1" height="1" fill="#000"/>
<rect x="386" y="590" width="1" height="1" fill="#000"/>
<rect x="385" y="590" width="1" height="1" fill="#000"/>
<rect x="381" y="590" width="1" height="1" fill="#000"/>
<rect x="380" y="590" width="1" height="1" fill="#000"/>
<rect x="379" y="590" width="1" height="1" fill="#000"/>
<rect x="375" y="590" width="1" height="1" fill="#000"/>
<rect x="374" y="590" width="1" height="1" fill="#000"/>
<rect x="373" y="590" width="1" height="1" fill="#000"/>
<rect x="369" y="590" width="1" height="1" fill="#000"/>
<rect x="368" y="590" width="1" height="1" fill="#000"/>
<rect x="367" y="589" width="1" height="1" fill="#000"/>
<rect x="363" y="585" width="1" height="1" fill="#000"/>
<rect x="363" y="584" width="1" height="1" fill="#000"/>
<rect x="363" y="583" width="1" height="1" fill="#000"/>
<rect x="363" y="579" width="1" height="1" fill="#000"/>
<rect x="363" y="578" width="1" height="1" fill="#000"/>
<rect x="363" y="577" width="1" height="1" fill="#000"/>
<rect x="365" y="573" width="1" height="1" fill="#000"/>
<rect x="366" y="572" width="1" height="1" fill="#000"/>
<rect x="367" y="571" width="1" height="1" fill="#000"/>
<rect x="368" y="580" width="6" height="1" fill="#000"/>
<line x1="373.5" y1="580.5" x2="377.5" y2="576.5" stroke="#000" stroke-width="1"/>
<rect x="379" y="575" width="3" height="3" fill="#000"/>
<rect x="379" y="579" width="3" height="3" fill="#000"/>
<rect x="379" y="583" width="3" height="3" fill="#000"/>
<rect x="383" y="576" width="5" height="1" fill="#000"/>
<rect x="383" y="580" width="9" height="1" fill="#000"/>
<rect x="383" y="584" width="5" height="1" fill="#000"/>
<rect x="387" y="576" width="1" height="9" fill="#000"/>
<rect x="382" y="591" width="1" height="1" fill="#000"/>
<rect x="383" y="592" width="1" height="1" fill="#000"/>
<rect x="388" y="597" width="1" height="1" fill="#000"/>
<rect x="389" y="596" width="1" height="1" fill="#000"/>
<rect x="390" y="595" width="1" height="1" fill="#000"/>
<rect x="363" y="575" width="1" height="1" fill="#000"/>
<rect x="364" y="574" width="1" height="1" fill="#000"/>
<rect x="366" y="572" width="1" height="1" fill="#fff"/>
<rect x="367" y="571" width="1" height="1" fill="#fff"/>
<rect x="385" y="594" width="1" height="1" fill="#fff"/>
<rect x="386" y="595" width="1" height="1" fill="#fff"/>
<rect x="387" y="596" width="1" height="1" fill="#fff"/>
<rect x="397" y="575" width="12" height="12" fill="#000"/>
<rect x="398" y="576" width="9" height="9" fill="#fff"/>
<rect x="399" y="580" width="7" height="1" fill="#000"/>
<rect x="409" y="580" width="9" height="1" fill="#000"/>
<text x="371" y="608" font-size="11" font-weight="normal" font-style="normal" fill="#000" textLength="20" lengthAdjust="spacingAndGlyphs">0..∞</text>
<rect x="417" y="481" width="1" height="199" fill="#000"/>
<rect x="436" y="475" width="105" height="21" fill="#c0c0c0"/>
<rect x="432" y="471" width="105" height="21" fill="#fff"/>
<rect x="432" y="471" width="105" height="1" fill="#000"/>
<rect x="432" y="491" width="105" height="1" fill="#000"/>
<rect x="432" y="471" width="1" height="21" fill="#000"/>
<rect x="536" y="471" width="1" height="21" fill="#000"/>
<rect x="435" y="485" width="1" height="1" fill="#000"/>
<rect x="436" y="485" width="1" height="1" fill="#000"/>
<rect x="437" y="485" width="1" height="1" fill="#000"/>
<rect x="438" y="485" width="1" height="1" fill="#000"/>
<rect x="436" y="486" width="1" height="1" fill="#000"/>
<rect x="437" y="486" width="1" height="1" fill="#000"/>
<rect x="438" y="486" width="1" height="1" fill="#000"/>
<rect x="435" y="487" width="1" height="1" fill="#000"/>
<rect x="436" y="487" width="1" height="1" fill="#000"/>
<rect x="437" y="487" width="1" height="1" fill="#000"/>
<rect x="438" y="487" width="1" height="1" fill="#000"/>
<rect x="434" y="488" width="1" height="1" fill="#000"/>
<rect x="435" y="488" width="1" height="1" fill="#000"/>
<rect x="436" y="488" width="1" height="1" fill="#000"/>
<rect x="438" y="488" width="1" height="1" fill="#000"/>
<rect x="434" y="489" width="1" height="1" fill="#000"/>
<rect x="435" y="489" width="1" height="1" fill="#000"/>
<text x="441" y="486" font-size="11" font-weight="bold" font-style="normal" fill="#000" stroke="#000" stroke-width="0.04" textLength="83.5" lengthAdjust="spacingAndGlyphs">omds:EL-Anzahl</text>
<rect x="531" y="476" width="12" height="12" fill="#000"/>
<rect x="532" y="477" width="9" height="9" fill="#fff"/>
<rect x="533" y="481" width="7" height="1" fill="#000"/>
<rect x="536" y="478" width="1" height="7" fill="#000"/>
<rect x="417" y="481" width="16" height="1" fill="#000"/>
<rect x="436" y="508" width="126" height="21" fill="#c0c0c0"/>
<rect x="432" y="504" width="126" height="21" fill="#fff"/>
<rect x="432" y="504" width="126" height="1" fill="#000"/>
<rect x="432" y="524" width="126" height="1" fill="#000"/>
<rect x="432" y="504" width="1" height="21" fill="#000"/>
<rect x="557" y="504" width="1" height="21" fill="#000"/>
<rect x="435" y="518" width="1" height="1" fill="#000"/>
<rect x="436" y="518" width="1" height="1" fill="#000"/>
<rect x="437" y="518" width="1" height="1" fill="#000"/>
<rect x="438" y="518" width="1" height="1" fill="#000"/>
<rect x="436" y="519" width="1" height="1" fill="#000"/>
<rect x="437" y="519" width="1" height="1" fill="#000"/>
<rect x="438" y="519" width="1" height="1" fill="#000"/>
<rect x="435" y="520" width="1" height="1" fill="#000"/>
<rect x="436" y="520" width="1" height="1" fill="#000"/>
<rect x="437" y="520" width="1" height="1" fill="#000"/>
<rect x="438" y="520" width="1" height="1" fill="#000"/>
<rect x="434" y="521" width="1" height="1" fill="#000"/>
<rect x="435" y="521" width="1" height="1" fill="#000"/>
<rect x="436" y="521" width="1" height="1" fill="#000"/>
<rect x="438" y="521" width="1" height="1" fill="#000"/>
<rect x="434" y="522" width="1" height="1" fill="#000"/>
<rect x="435" y="522" width="1" height="1" fill="#000"/>
<text x="441" y="519" font-size="11" font-weight="bold" font-style="normal" fill="#000" stroke="#000" stroke-width="0.04" textLength="104.5" lengthAdjust="spacingAndGlyphs">omds:EL-Einstufung</text>
<rect x="552" y="509" width="12" height="12" fill="#000"/>
<rect x="553" y="510" width="9" height="9" fill="#fff"/>
<rect x="554" y="514" width="7" height="1" fill="#000"/>
<rect x="557" y="511" width="1" height="7" fill="#000"/>
<rect x="417" y="514" width="16" height="1" fill="#000"/>
<rect x="436" y="541" width="172" height="21" fill="#c0c0c0"/>
<rect x="432" y="537" width="172" height="21" fill="#fff"/>
<rect x="432" y="537" width="172" height="1" fill="#000"/>
<rect x="432" y="557" width="172" height="1" fill="#000"/>
<rect x="432" y="537" width="1" height="21" fill="#000"/>
<rect x="603" y="537" width="1" height="21" fill="#000"/>
<rect x="435" y="551" width="1" height="1" fill="#000"/>
<rect x="436" y="551" width="1" height="1" fill="#000"/>
<rect x="437" y="551" width="1" height="1" fill="#000"/>
<rect x="438" y="551" width="1" height="1" fill="#000"/>
<rect x="436" y="552" width="1" height="1" fill="#000"/>
<rect x="437" y="552" width="1" height="1" fill="#000"/>
<rect x="438" y="552" width="1" height="1" fill="#000"/>
<rect x="435" y="553" width="1" height="1" fill="#000"/>
<rect x="436" y="553" width="1" height="1" fill="#000"/>
<rect x="437" y="553" width="1" height="1" fill="#000"/>
<rect x="438" y="553" width="1" height="1" fill="#000"/>
<rect x="434" y="554" width="1" height="1" fill="#000"/>
<rect x="435" y="554" width="1" height="1" fill="#000"/>
<rect x="436" y="554" width="1" height="1" fill="#000"/>
<rect x="438" y="554" width="1" height="1" fill="#000"/>
<rect x="434" y="555" width="1" height="1" fill="#000"/>
<rect x="435" y="555" width="1" height="1" fill="#000"/>
<text x="441" y="552" font-size="11" font-weight="bold" font-style="normal" fill="#000" stroke="#000" stroke-width="0.04" textLength="150.5" lengthAdjust="spacingAndGlyphs">omds:EL-Entscheidungsfrage</text>
<rect x="598" y="542" width="12" height="12" fill="#000"/>
<rect x="599" y="543" width="9" height="9" fill="#fff"/>
<rect x="600" y="547" width="7" height="1" fill="#000"/>
<rect x="603" y="544" width="1" height="7" fill="#000"/>
<rect x="417" y="547" width="16" height="1" fill="#000"/>
<rect x="436" y="574" width="145" height="21" fill="#c0c0c0"/>
<rect x="432" y="570" width="145" height="21" fill="#fff"/>
<rect x="432" y="570" width="145" height="1" fill="#000"/>
<rect x="432" y="590" width="145" height="1" fill="#000"/>
<rect x="432" y="570" width="1" height="21" fill="#000"/>
<rect x="576" y="570" width="1" height="21" fill="#000"/>
<rect x="435" y="584" width="1" height="1" fill="#000"/>
<rect x="436" y="584" width="1" height="1" fill="#000"/>
<rect x="437" y="584" width="1" height="1" fill="#000"/>
<rect x="438" y="584" width="1" height="1" fill="#000"/>
<rect x="436" y="585" width="1" height="1" fill="#000"/>
<rect x="437" y="585" width="1" height="1" fill="#000"/>
<rect x="438" y="585" width="1" height="1" fill="#000"/>
<rect x="435" y="586" width="1" height="1" fill="#000"/>
<rect x="436" y="586" width="1" height="1" fill="#000"/>
<rect x="437" y="586" width="1" height="1" fill="#000"/>
<rect x="438" y="586" width="1" height="1" fill="#000"/>
<rect x="434" y="587" width="1" height="1" fill="#000"/>
<rect x="435" y="587" width="1" height="1" fill="#000"/>
<rect x="436" y="587" width="1" height="1" fill="#000"/>
<rect x="438" y="587" width="1" height="1" fill="#000"/>
<rect x="434" y="588" width="1" height="1" fill="#000"/>
<rect x="435" y="588" width="1" height="1" fill="#000"/>
<text x="441" y="585" font-size="11" font-weight="bold" font-style="normal" fill="#000" stroke="#000" stroke-width="0.04" textLength="123.5" lengthAdjust="spacingAndGlyphs">omds:EL-Identifizierung</text>
<rect x="571" y="575" width="12" height="12" fill="#000"/>
<rect x="572" y="576" width="9" height="9" fill="#fff"/>
<rect x="573" y="580" width="7" height="1" fill="#000"/>
<rect x="576" y="577" width="1" height="7" fill="#000"/>
<rect x="417" y="580" width="16" height="1" fill="#000"/>
<rect x="436" y="607" width="153" height="21" fill="#c0c0c0"/>
<rect x="432" y="603" width="153" height="21" fill="#fff"/>
<rect x="432" y="603" width="153" height="1" fill="#000"/>
<rect x="432" y="623" width="153" height="1" fill="#000"/>
<rect x="432" y="603" width="1" height="21" fill="#000"/>
<rect x="584" y="603" width="1" height="21" fill="#000"/>
<rect x="435" y="617" width="1" height="1" fill="#000"/>
<rect x="436" y="617" width="1" height="1" fill="#000"/>
<rect x="437" y="617" width="1" height="1" fill="#000"/>
<rect x="438" y="617" width="1" height="1" fill="#000"/>
<rect x="436" y="618" width="1" height="1" fill="#000"/>
<rect x="437" y="618" width="1" height="1" fill="#000"/>
<rect x="438" y="618" width="1" height="1" fill="#000"/>
<rect x="435" y="619" width="1" height="1" fill="#000"/>
<rect x="436" y="619" width="1" height="1" fill="#000"/>
<rect x="437" y="619" width="1" height="1" fill="#000"/>
<rect x="438" y="619" width="1" height="1" fill="#000"/>
<rect x="434" y="620" width="1" height="1" fill="#000"/>
<rect x="435" y="620" width="1" height="1" fill="#000"/>
<rect x="436" y="620" width="1" height="1" fill="#000"/>
<rect x="438" y="620" width="1" height="1" fill="#000"/>
<rect x="434" y="621" width="1" height="1" fill="#000"/>
<rect x="435" y="621" width="1" height="1" fill="#000"/>
<text x="441" y="618" font-size="11" font-weight="bold" font-style="normal" fill="#000" stroke="#000" stroke-width="0.04" textLength="131.5" lengthAdjust="spacingAndGlyphs">omds:EL-Kommunikation</text>
<rect x="579" y="608" width="12" height="12" fill="#000"/>
<rect x="580" y="609" width="9" height="9" fill="#fff"/>
<rect x="581" y="613" width="7" height="1" fill="#000"/>
<rect x="584" y="610" width="1" height="7" fill="#000"/>
<rect x="417" y="613" width="16" height="1" fill="#000"/>
<rect x="436" y="640" width="135" height="21" fill="#c0c0c0"/>
<rect x="432" y="636" width="135" height="21" fill="#fff"/>
<rect x="432" y="636" width="135" height="1" fill="#000"/>
<rect x="432" y="656" width="135" height="1" fill="#000"/>
<rect x="432" y="636" width="1" height="21" fill="#000"/>
<rect x="566" y="636" width="1" height="21" fill="#000"/>
<rect x="435" y="650" width="1" height="1" fill="#000"/>
<rect x="436" y="650" width="1" height="1" fill="#000"/>
<rect x="437" y="650" width="1" height="1" fill="#000"/>
<rect x="438" y="650" width="1" height="1" fill="#000"/>
<rect x="436" y="651" width="1" height="1" fill="#000"/>
<rect x="437" y="651" width="1" height="1" fill="#000"/>
<rect x="438" y="651" width="1" height="1" fill="#000"/>
<rect x="435" y="652" width="1" height="1" fill="#000"/>
<rect x="436" y="652" width="1" height="1" fill="#000"/>
<rect x="437" y="652" width="1" height="1" fill="#000"/>
<rect x="438" y="652" width="1" height="1" fill="#000"/>
<rect x="434" y="653" width="1" height="1" fill="#000"/>
<rect x="435" y="653" width="1" height="1" fill="#000"/>
<rect x="436" y="653" width="1" height="1" fill="#000"/>
<rect x="438" y="653" width="1" height="1" fill="#000"/>
<rect x="434" y="654" width="1" height="1" fill="#000"/>
<rect x="435" y="654" width="1" height="1" fill="#000"/>
<text x="441" y="651" font-size="11" font-weight="bold" font-style="normal" fill="#000" stroke="#000" stroke-width="0.04" textLength="113.5" lengthAdjust="spacingAndGlyphs">omds:EL-Legitimation</text>
<rect x="561" y="641" width="12" height="12" fill="#000"/>
<rect x="562" y="642" width="9" height="9" fill="#fff"/>
<rect x="563" y="646" width="7" height="1" fill="#000"/>
<rect x="566" y="643" width="1" height="7" fill="#000"/>
<rect x="417" y="646" width="16" height="1" fill="#000"/>
<rect x="436" y="673" width="90" height="21" fill="#c0c0c0"/>
<rect x="432" y="669" width="90" height="21" fill="#fff"/>
<rect x="432" y="669" width="90" height="1" fill="#000"/>
<rect x="432" y="689" width="90" height="1" fill="#000"/>
<rect x="432" y="669" width="1" height="21" fill="#000"/>
<rect x="521" y="669" width="1" height="21" fill="#000"/>
<rect x="435" y="683" width="1" height="1" fill="#000"/>
<rect x="436" y="683" width="1" height="1" fill="#000"/>
<rect x="437" y="683" width="1" height="1" fill="#000"/>
<rect x="438" y="683" width="1" height="1" fill="#000"/>
<rect x="436" y="684" width="1" height="1" fill="#000"/>
<rect x="437" y="684" width="1" height="1" fill="#000"/>
<rect x="438" y="684" width="1" height="1" fill="#000"/>
<rect x="435" y="685" width="1" height="1" fill="#000"/>
<rect x="436" y="685" width="1" height="1" fill="#000"/>
<rect x="437" y="685" width="1" height="1" fill="#000"/>
<rect x="438" y="685" width="1" height="1" fill="#000"/>
<rect x="434" y="686" width="1" height="1" fill="#000"/>
<rect x="435" y="686" width="1" height="1" fill="#000"/>
<rect x="436" y="686" width="1" height="1" fill="#000"/>
<rect x="438" y="686" width="1" height="1" fill="#000"/>
<rect x="434" y="687" width="1" height="1" fill="#000"/>
<rect x="435" y="687" width="1" height="1" fill="#000"/>
<text x="441" y="684" font-size="11" font-weight="bold" font-style="normal" fill="#000" stroke="#000" stroke-width="0.04" textLength="68.5" lengthAdjust="spacingAndGlyphs">omds:EL-Text</text>
<rect x="516" y="674" width="12" height="12" fill="#000"/>
<rect x="517" y="675" width="9" height="9" fill="#fff"/>
<rect x="518" y="679" width="7" height="1" fill="#000"/>
<rect x="521" y="676" width="1" height="7" fill="#000"/>
<rect x="417" y="679" width="16" height="1" fill="#000"/></svg>
</body></html>
